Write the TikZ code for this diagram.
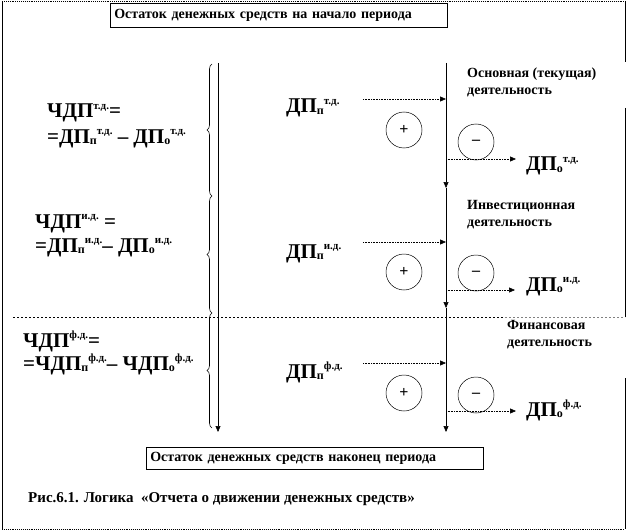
\documentclass[tikz,border=0pt]{standalone}
\usepackage{fontspec}
\setmainfont{Liberation Serif}
\usetikzlibrary{decorations.pathreplacing,arrows.meta}
\newcommand{\upidx}[1]{\raisebox{0.42em}{\bfseries\fontsize{11}{11}\selectfont #1}}
\newcommand{\lowidx}[1]{\raisebox{-0.05em}{\bfseries\fontsize{12}{12}\selectfont #1}}
\tikzset{
  txt/.style={font=\bfseries\fontsize{14}{17}\selectfont},
  big/.style={font=\bfseries\fontsize{21}{24}\selectfont},
  frameline/.style={line width=0.9pt},
  framedot/.style={line width=0.9pt, densely dotted},
  box/.style={draw, line width=0.6pt, anchor=north west, inner xsep=4pt, inner ysep=0pt, text width=329pt, align=left, txt},
  flow/.style={line width=0.6pt, -{Triangle[length=6pt,width=5pt]}},
  inflow/.style={line width=0.6pt, densely dotted, -{Triangle[length=6pt,width=5pt]}},
  sign/.style={circle, draw, line width=0.5pt, minimum size=36pt, inner sep=0pt, font=\bfseries\fontsize{16}{16}\selectfont},
  lbl/.style={anchor=base west, inner sep=0pt},
  actlbl/.style={anchor=north west, inner sep=0pt, align=left, txt},
  bracestyle/.style={line width=0.6pt, decorate, decoration={brace, amplitude=5pt, mirror}},
  sepline/.style={line width=0.7pt, dash pattern=on 2pt off 2pt},
}
\begin{document}
\begin{tikzpicture}[x=1pt,y=-1pt]
\useasboundingbox (0,0) rectangle (629,532);
% frame
\coordinate (fTL) at (2,1);
\coordinate (fTR) at (625,1);
\coordinate (fBL) at (2,529);
\coordinate (fBR) at (625,529);
\draw[framedot] (fTL) -- (fTR);
\draw[framedot] (fBL) -- (fBR);
\draw[frameline] (fTL) -- (fBL);
\coordinate (r1) at (625,62);
\coordinate (r2) at (625,108);
\coordinate (r3) at (625,317);
\coordinate (r4) at (625,378);
\draw[frameline] (fTR) -- (r1);
\draw[frameline] (r2) -- (r3);
\draw[frameline] (r4) -- (fBR);

% boxes
\node[box, minimum height=24pt] (top) at (110,3) {Остаток денежных средств на начало периода};
\node[box, minimum height=22pt] (bot) at (146,447) {Остаток денежных средств наконец периода};

% caption
\node[anchor=base west, inner sep=0pt, font=\bfseries\fontsize{15}{18}\selectfont] (cap) at (28,502) {Рис.6.1. Логика\ \ «Отчета о движении денежных средств»};

% separator
\coordinate (s0) at (13,317);
\coordinate (s1) at (505,317);
\coordinate (s2) at (625,317);
\draw[sepline] (s0) -- (s1);
\draw[sepline, gray] (s1) -- (s2);

% main vertical flow
\coordinate (v0) at (446,63);
\coordinate (v1) at (446,188);
\coordinate (v2) at (446,308);
\coordinate (v3) at (446,432);
\draw[flow] (v0) -- (v1);
\draw[flow] (v1) -- (v2);
\draw[flow] (v2) -- (v3);

% left vertical line with braces
\coordinate (b0) at (218,63);
\coordinate (b3) at (218,432);
\draw[flow] (b0) -- (b3);
\coordinate (k0) at (212,64);
\coordinate (k1) at (212,196);
\coordinate (k2) at (212,313);
\coordinate (k3) at (212,428);
\draw[bracestyle] (k0) -- (k1);
\draw[bracestyle] (k1) -- (k2);
\draw[bracestyle] (k2) -- (k3);

% section 1
\coordinate (i1s) at (363,99);  \coordinate (i1e) at (446,99);
\coordinate (o1s) at (446,159); \coordinate (o1e) at (516,159);
\draw[inflow] (i1s) -- (i1e);
\draw[inflow] (o1s) -- (o1e);
\node[sign] (p1) at (404,130) {+};
\node[sign] (m1) at (476,142) {–};
\node[lbl, big] (in1) at (286,113) {ДП\lowidx{п}\upidx{т.д.}};
\node[lbl, big] (out1) at (526,171) {ДП\lowidx{о}\upidx{т.д.}};
\node[actlbl] (a1) at (467,68) {Основная (текущая)\\деятельность};
\node[lbl, big] (f1a) at (47,118) {ЧДП\upidx{т.д.}=};
\node[lbl, big] (f1b) at (47,143) {=ДП\lowidx{п}\upidx{т.д.} – ДП\lowidx{о}\upidx{т.д.}};

% section 2
\coordinate (i2s) at (363,242); \coordinate (i2e) at (446,242);
\coordinate (o2s) at (446,290); \coordinate (o2e) at (515,290);
\draw[inflow] (i2s) -- (i2e);
\draw[inflow] (o2s) -- (o2e);
\node[sign] (p2) at (404,272) {+};
\node[sign] (m2) at (476,273) {–};
\node[lbl, big] (in2) at (286,258) {ДП\lowidx{п}\upidx{и.д.}};
\node[lbl, big] (out2) at (526,291) {ДП\lowidx{о}\upidx{и.д.}};
\node[actlbl] (a2) at (467,200) {Инвестиционная\\деятельность};
\node[lbl, big] (f2a) at (35,228) {ЧДП\upidx{и.д.} =};
\node[lbl, big] (f2b) at (35,252) {=ДП\lowidx{п}\upidx{и.д.}– ДП\lowidx{о}\upidx{и.д.}};

% section 3
\coordinate (i3s) at (363,363); \coordinate (i3e) at (446,363);
\coordinate (o3s) at (446,411); \coordinate (o3e) at (516,411);
\draw[inflow] (i3s) -- (i3e);
\draw[inflow] (o3s) -- (o3e);
\node[sign] (p3) at (404,393) {+};
\node[sign] (m3) at (476,395) {–};
\node[lbl, big] (in3) at (286,378) {ДП\lowidx{п}\upidx{ф.д.}};
\node[lbl, big] (out3) at (526,416) {ДП\lowidx{о}\upidx{ф.д.}};
\node[actlbl] (a3) at (507,320) {Финансовая\\деятельность};
\node[lbl, big] (f3a) at (23,347) {ЧДП\upidx{ф.д.}=};
\node[lbl, big] (f3b) at (23,370) {=ЧДП\lowidx{п}\upidx{ф.д.}– ЧДП\lowidx{о}\upidx{ф.д.}};
\end{tikzpicture}
\end{document}
